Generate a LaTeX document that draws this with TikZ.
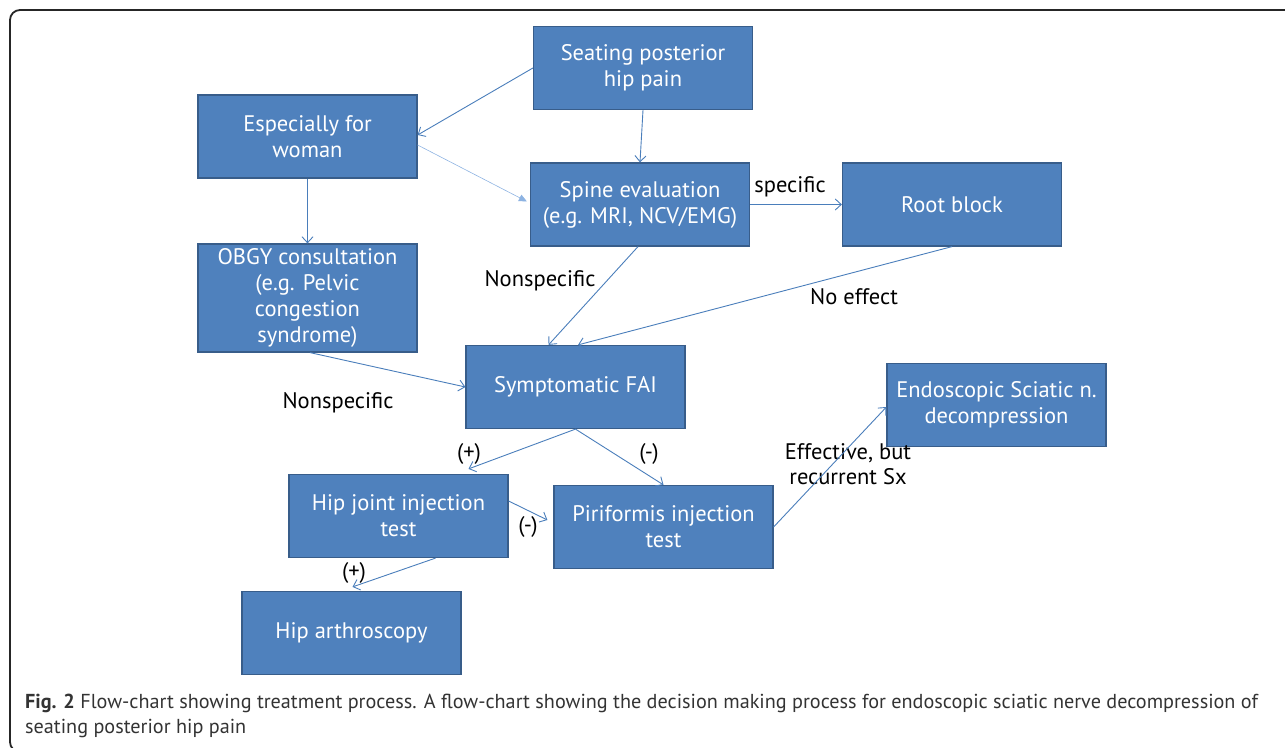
\documentclass[tikz,border=0pt]{standalone}
\usepackage{fontspec}
\usepackage{xcolor}
\usetikzlibrary{arrows.meta}
\setmainfont{PT Sans}
\newfontfamily\capfont{PT Sans}
\definecolor{boxfill}{HTML}{4F81BD}
\definecolor{boxline}{HTML}{385D8A}
\definecolor{linkcol}{HTML}{4A7EBB}
\definecolor{lightlink}{HTML}{8DB3E2}
\definecolor{captext}{HTML}{333333}

\begin{document}
\begin{tikzpicture}[x=1pt,y=-1pt]
\tikzstyle{every node}+=[inner sep=0pt]
\tikzstyle{box}=[draw=boxline, fill=boxfill, line width=1.2pt, text=white, align=center,
  minimum width=219pt, minimum height=83pt, font=\fontsize{22.5}{26}\selectfont]
\tikzstyle{link}=[draw=linkcol, line width=0.9pt, -{Straight Barb[length=6pt,width=11pt]}]
\tikzstyle{lbl}=[align=center, font=\fontsize{22.5}{25}\selectfont]
\useasboundingbox (0,0) rectangle (1285,747);
\begin{scope}
\clip (0,0) rectangle (1285,747);
\draw [black!85, line width=1.8pt, rounded corners=10pt] (10,10) rectangle (1310,752);
\end{scope}
% boxes
\node [box] (seat) at (643,68) {Seating posterior\\hip pain};
\node [box] (woman) at (307.5,136.5) {Especially for\\woman};
\node [box] (spine) at (640,204.5) {Spine evaluation\\(e.g. MRI, NCV/EMG)};
\node [box] (root) at (952,204.5) {Root block};
\node [box, minimum height=108pt] (obgy) at (307.5,298) {OBGY consultation\\(e.g. Pelvic\\congestion\\syndrome)};
\node [box] (sym) at (575.5,387) {Symptomatic FAI};
\node [box] (hipj) at (398.5,516) {Hip joint injection\\test};
\node [box] (piri) at (663.5,527) {Piriformis injection\\test};
\node [box] (arth) at (351.5,633) {Hip arthroscopy};
\node [box] (endo) at (996.5,405) {Endoscopic Sciatic n.\\decompression};
% labels
\node [lbl] (lspec) at (790,187) {specific};
\node [lbl] (lnon1) at (540,281) {Nonspecific};
\node [lbl] (lnoeff) at (854,297) {No effect};
\node [lbl] (lnon2) at (338,403) {Nonspecific};
\node [lbl] (lplus1) at (469,454) {(+)};
\node [lbl] (lminus1) at (649,454) {(-)};
\node [lbl] (lminus2) at (528,527) {(-)};
\node [lbl] (lplus2) at (354,573) {(+)};
\node [lbl] (leff) at (848,464) {Effective, but\\recurrent Sx};
% arrows
\draw [link] (seat.west) -- ([yshift=1.5pt]woman.east);
\draw [link] (seat.south) -- (spine.north);
\draw [draw=lightlink, line width=0.6pt, -{Triangle[length=8pt,width=7pt]}] ([yshift=-8.5pt]woman.east) -- ([xshift=-3pt,yshift=3pt]spine.west);
\draw [link] (woman.south) -- (obgy.north);
\draw [link] (spine.east) -- (root.west);
\draw [link] ([xshift=-2pt]spine.south) -- ([xshift=-27pt]sym.north);
\draw [link] (root.south) -- ([xshift=2.5pt]sym.north);
\draw [link] ([xshift=2.5pt]obgy.south) -- (sym.west);
\draw [link] (sym.south) -- ([xshift=70pt,yshift=5pt]hipj.north);
\draw [link] (sym.south) -- (piri.north);
\draw [link] ([yshift=15pt]hipj.east) -- ([xshift=-6pt,yshift=7pt]piri.west);
\draw [link] ([xshift=37pt]hipj.south) -- ([xshift=1pt,yshift=4pt]arth.north);
\draw [link] (piri.east) -- ([yshift=-2pt]endo.west);
% caption
\node [anchor=base west, text=captext, font=\capfont\fontsize{20.2}{25}\selectfont] (cap1) at (25,708)
  {\textbf{Fig. 2} Flow-chart showing treatment process. A flow-chart showing the decision making process for endoscopic sciatic nerve decompression of};
\node [anchor=base west, text=captext, font=\capfont\fontsize{20.2}{25}\selectfont] (cap2) at (25,733)
  {seating posterior hip pain};
\end{tikzpicture}
\end{document}
